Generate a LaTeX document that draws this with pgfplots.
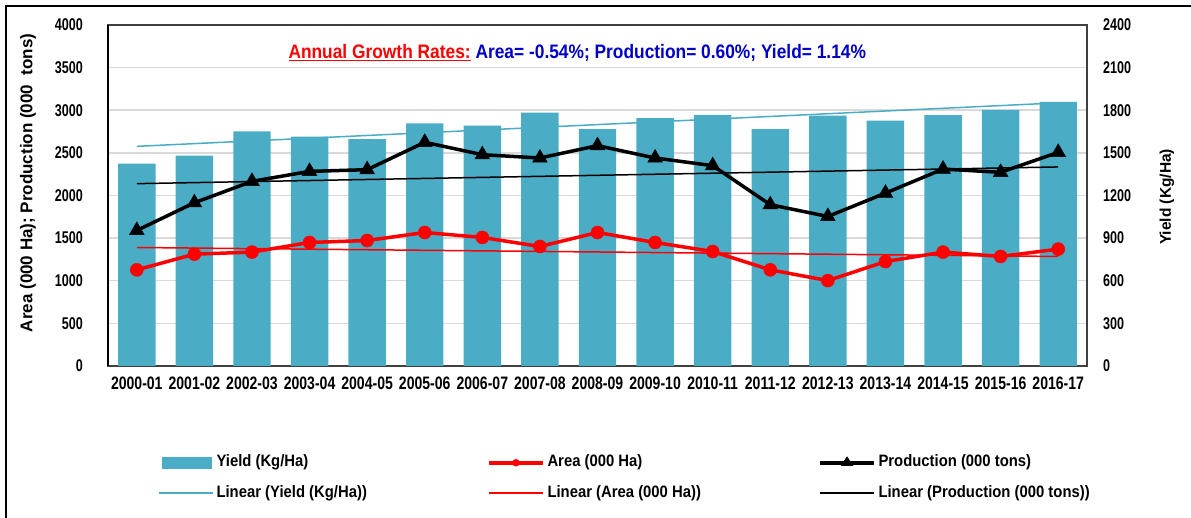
\documentclass[border=0pt]{standalone}
\usepackage{pgfplots}
\pgfplotsset{compat=1.18}
\usepackage{pgfplotstable}
\usepackage{fontspec}
\setmainfont{Liberation Sans}
\newfontfamily\tickfont{Liberation Sans}[FakeStretch=0.74]
\newfontfamily\xtfont{Liberation Sans}[FakeStretch=0.78]
\newfontfamily\titlefont{Liberation Sans}[FakeStretch=0.89]
\newfontfamily\legfont{Liberation Sans}[FakeStretch=0.9]
\definecolor{barc}{HTML}{4BACC6}
\definecolor{gridc}{HTML}{D9D9D9}
\definecolor{framec}{HTML}{404040}
\definecolor{titleblue}{RGB}{0,0,200}

\pgfplotstableread{
i area prod yield
0 1128 1590 1424
1 1312 1915 1481
2 1336 2166 1652
3 1449 2283 1615
4 1472 2303 1596
5 1566 2624 1708
6 1508 2479 1692
7 1402 2440 1784
8 1566 2585 1668
9 1449 2440 1744
10 1343 2350 1768
11 1128 1892 1668
12 1002 1754 1763
13 1225 2028 1727
14 1336 2310 1765
15 1285 2272 1803
16 1371 2506 1859
}\data

\begin{document}
\begin{tikzpicture}
\useasboundingbox (-108bp,-152bp) rectangle (1083bp,366bp);
% outer frame (top and left edges)
\draw[black, line width=2.5bp] (-102bp,-160bp) -- (-102bp,360bp) -- (1090bp,360bp);

% right axis: yield
\begin{axis}[
  scale only axis, width=979bp, height=341bp,
  xmin=-0.5, xmax=16.5, ymin=0, ymax=2400,
  ytick={0,300,...,2400},
  xtick={0,...,16},
  xticklabels={2000-01,2001-02,2002-03,2003-04,2004-05,2005-06,2006-07,2007-08,2008-09,2009-10,2010-11,2011-12,2012-13,2013-14,2014-15,2015-16,2016-17},
  ytick pos=right, yticklabel pos=right,
  xtick pos=bottom,
  major tick length=0pt,
  ymajorgrids, grid style={gridc, line width=1.5bp},
  axis line style={framec, line width=1.5bp},
  /pgf/number format/assume math mode=true,
  /pgf/number format/1000 sep={},
  scaled y ticks=false,
  yticklabel style={font=\tickfont\bfseries\fontsize{17bp}{20bp}\selectfont, anchor=west, inner sep=0pt, xshift=16bp},
  xticklabel style={font=\xtfont\bfseries\fontsize{18bp}{20bp}\selectfont, anchor=north, inner sep=0pt, yshift=-11bp},
  ylabel={Yield (Kg/Ha)},
  ylabel style={font=\bfseries\fontsize{15.5bp}{18bp}\selectfont, at={(axis description cs:1.0817,0.496)}, anchor=center, rotate=0},
]
\addplot[ybar, bar width=0.65, fill=barc, draw=none] table[x=i, y=yield] {\data};
\addplot[barc, line width=1.5bp] coordinates {(0,1546) (16,1852)};
\end{axis}

% left axis: area and production
\begin{axis}[
  scale only axis, width=979bp, height=341bp,
  xmin=-0.5, xmax=16.5, ymin=0, ymax=4000,
  ytick={0,500,...,4000},
  axis y line*=left, axis x line=none,
  y axis line style={black, line width=2bp},
  major tick length=0pt,
  /pgf/number format/assume math mode=true,
  /pgf/number format/1000 sep={},
  scaled y ticks=false,
  yticklabel style={font=\tickfont\bfseries\fontsize{17bp}{20bp}\selectfont, anchor=east, inner sep=0pt, xshift=-25bp},
  ylabel={Area (000 Ha); Production (000\ \ tons)},
  ylabel style={font=\bfseries\fontsize{17bp}{20bp}\selectfont, at={(axis description cs:-0.0817,0.537)}, anchor=center, rotate=0},
  legend columns=3,
  legend style={draw=none, fill=none, inner sep=0pt, outer sep=0pt,
    at={(axis description cs:0.0511,-0.3285)}, anchor=west,
    font=\legfont\bfseries\fontsize{16.5bp}{19bp}\selectfont,
    row sep=11bp, column sep=0pt,
    nodes={inner sep=2.5bp, text height=11bp, text depth=3.5bp}},
]
\addplot[red, line width=1.5bp, forget plot] coordinates {(0,1390) (16,1285)};
\addplot[black, line width=1.5bp, forget plot] coordinates {(0,2139) (16,2335)};
\addplot[red, line width=3.5bp, mark=*, mark size=6.5bp, mark options={fill=red, draw=red, line width=0.5bp}, forget plot] table[x=i, y=area] {\data};
\addplot[black, line width=3.5bp, mark=triangle*, mark size=8.5bp, mark options={fill=black, draw=black, line width=0.5bp}, forget plot] table[x=i, y=prod] {\data};

\addlegendimage{legend image code/.code={\fill[barc] (3bp,-5.5bp) rectangle (52bp,5.5bp);}}
\addlegendentry{\makebox[268bp][l]{Yield (Kg/Ha)}}
\addlegendimage{legend image code/.code={\draw[red, line width=4bp] (0bp,0bp) -- (54bp,0bp); \fill[red] (27bp,0bp) circle (3.5bp);}}
\addlegendentry{\makebox[268bp][l]{Area (000 Ha)}}
\addlegendimage{legend image code/.code={\draw[black, line width=4bp] (0bp,0bp) -- (54bp,0bp); \fill[black] (21bp,-3bp) -- (33bp,-3bp) -- (27bp,6bp) -- cycle;}}
\addlegendentry{\makebox[230bp][l]{Production (000 tons)}}
\addlegendimage{legend image code/.code={\draw[barc, line width=2bp] (0bp,0bp) -- (54bp,0bp);}}
\addlegendentry{\makebox[268bp][l]{Linear (Yield (Kg/Ha))}}
\addlegendimage{legend image code/.code={\draw[red, line width=2bp] (0bp,0bp) -- (54bp,0bp);}}
\addlegendentry{\makebox[268bp][l]{Linear (Area (000 Ha))}}
\addlegendimage{legend image code/.code={\draw[black, line width=2bp] (0bp,0bp) -- (54bp,0bp);}}
\addlegendentry{\makebox[230bp][l]{Linear (Production (000 tons))}}
\end{axis}

\node[anchor=base west, inner sep=0pt] at (180.3bp,307bp)
  {\titlefont\bfseries\fontsize{19.5bp}{22bp}\selectfont\textcolor{red}{\underline{Annual Growth Rates:}}\ \textcolor{titleblue}{Area= -0.54\%; Production= 0.60\%; Yield= 1.14\%}};
\end{tikzpicture}
\end{document}
